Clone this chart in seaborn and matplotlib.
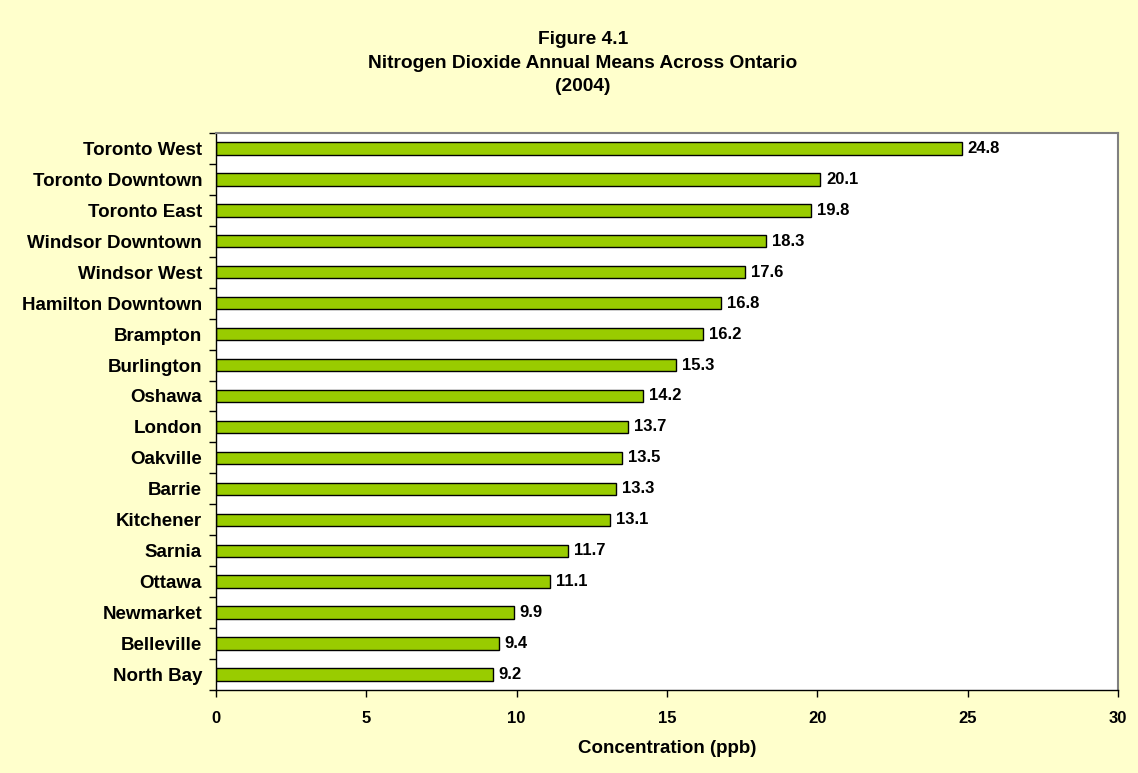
import pandas as pd
import seaborn as sns
import matplotlib.pyplot as plt

stations = ['Toronto West', 'Toronto Downtown', 'Toronto East', 'Windsor Downtown',
            'Windsor West', 'Hamilton Downtown', 'Brampton', 'Burlington', 'Oshawa',
            'London', 'Oakville', 'Barrie', 'Kitchener', 'Sarnia', 'Ottawa',
            'Newmarket', 'Belleville', 'North Bay']
no2 = [24.8, 20.1, 19.8, 18.3, 17.6, 16.8, 16.2, 15.3, 14.2,
       13.7, 13.5, 13.3, 13.1, 11.7, 11.1, 9.9, 9.4, 9.2]

df = pd.DataFrame({'station': stations, 'no2': no2})

sns.set_theme(style="white")
plt.rcParams['font.family'] = ['Liberation Sans', 'DejaVu Sans']
plt.rcParams['font.weight'] = 'bold'
for k in ['text.color', 'axes.labelcolor', 'xtick.color', 'ytick.color']:
    plt.rcParams[k] = 'black'

fig = plt.figure(figsize=(11.38, 7.73), dpi=100, facecolor='#FFFFCC')
ax = fig.add_axes([0.1898, 0.1074, 0.7926, 0.7206])
ax.set_facecolor('white')

sns.barplot(data=df, x='no2', y='station', color='#99CC00', saturation=1,
            edgecolor='black', linewidth=1.0, width=0.4, ax=ax)

# value labels at bar ends
for i, v in enumerate(no2):
    ax.text(v + 0.2, i, f'{v:.1f}', va='center', ha='left', fontsize=12, fontweight='bold')

ax.set_xlim(0, 30)
ax.set_ylim(len(stations) - 0.5, -0.5)
ax.set_xticks([0, 5, 10, 15, 20, 25, 30])
ax.set_xlabel('Concentration (ppb)', fontsize=13.5, fontweight='bold', labelpad=10)
ax.set_ylabel('')
ax.tick_params(axis='x', labelsize=12, length=5, width=1, direction='out', pad=10, bottom=True)
ax.tick_params(axis='y', labelsize=13.5, length=0, pad=10)
for lbl in ax.get_xticklabels() + ax.get_yticklabels():
    lbl.set_fontweight('bold')

# y ticks between categories
ax.set_yticks([i - 0.5 for i in range(len(stations) + 1)], minor=True)
ax.tick_params(axis='y', which='minor', length=5, width=1, left=True)

for s in ['left', 'bottom']:
    ax.spines[s].set_color('black')
    ax.spines[s].set_linewidth(1)
for s in ['top', 'right']:
    ax.spines[s].set_color('#808080')
    ax.spines[s].set_linewidth(1.5)

fig.text(0.512, 0.918, 'Figure 4.1\nNitrogen Dioxide Annual Means Across Ontario\n(2004)',
         ha='center', va='center', fontsize=13.8, fontweight='bold', linespacing=1.5)

fig.savefig('out.png', dpi=100, facecolor=fig.get_facecolor())
